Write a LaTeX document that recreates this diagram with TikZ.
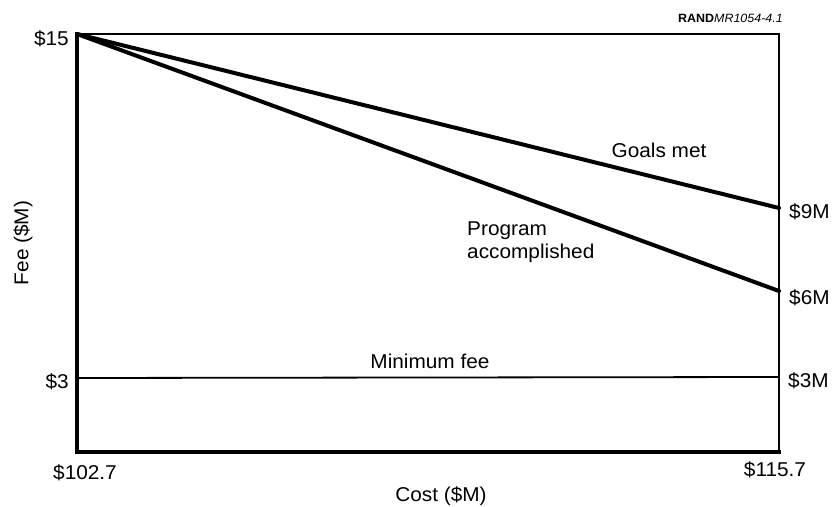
\documentclass[tikz,border=0pt]{standalone}
\usepackage{fontspec}
\setmainfont{Liberation Sans}[FakeStretch=1.04]
\usepackage{tikz}
\usetikzlibrary{calc}

\begin{document}
\begin{tikzpicture}[x=1pt,y=1pt,every node/.style={inner sep=0pt,font=\fontsize{20}{23}\selectfont},
  heavy/.style={line width=4pt},light/.style={line width=1.5pt}]
  \useasboundingbox (0,0) rectangle (832,506);
  \path (77,472) coordinate (tl) (779,472) coordinate (tr) (77,54) coordinate (bl) (779,54) coordinate (br)
  (779,298) coordinate (g9) (779,215) coordinate (p6) (77,128) coordinate (m0) (779,129) coordinate (m3);
  \draw[light] (tl) -- (tr) -- (br);
  \draw[heavy,line cap=rect] (tl) -- (bl) -- (br);
  \draw[heavy,line cap=round] (tl) -- (g9);
  \draw[heavy,line cap=round] (tl) -- (p6);
  \draw[line width=1.8pt] (m0) -- (m3);
  \path (69,467) node[anchor=east] (f15) {\$15} (69,124) node[anchor=east] (f3) {\$3}
  (85,33) node (c0) {\$102.7} (775,36) node (c1) {\$115.7}
  (441,10) node (cost) {Cost (\$M)} (23,263) node[rotate=90] (fee) {Fee (\$M)}
  (789,294) node[anchor=west] (l9) {\$9M} (789,208) node[anchor=west] (l6) {\$6M}
  (788,125) node[anchor=west] (l3) {\$3M};
  \path (659,356) node (goals) {Goals met} (467,264) node[anchor=west,align=left] (prog) {Program\\accomplished}
  (430,145) node (minfee) {Minimum fee};
  \path (783,488) node[anchor=east,font=\fontsize{12}{13}\selectfont] (tag) {\textbf{RAND}\textit{MR1054-4.1}};
\end{tikzpicture}
\end{document}
